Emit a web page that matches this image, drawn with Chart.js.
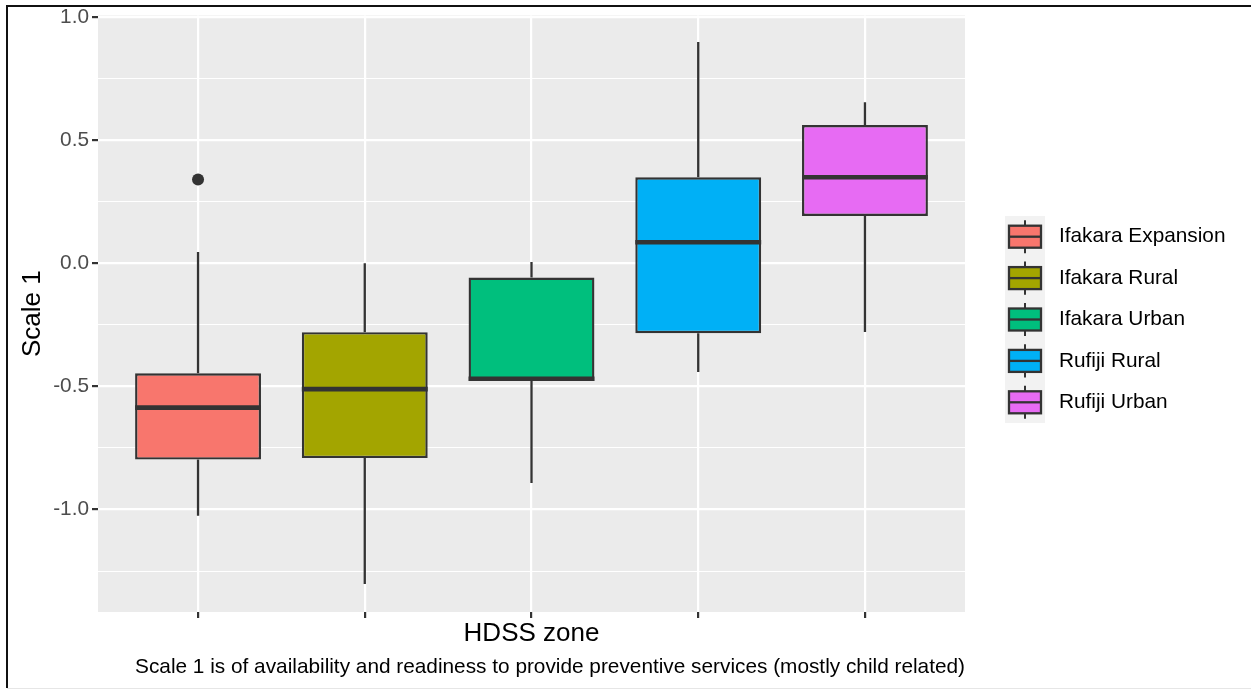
<!DOCTYPE html>
<html>
<head>
<meta charset="utf-8">
<script src="https://cdn.jsdelivr.net/npm/chart.js@4.4.1/dist/chart.umd.min.js"></script>
<style>
  html, body { margin: 0; padding: 0; background: #fff; }
  #wrap { width: 1251px; height: 692px; }
</style>
</head>
<body>
<div id="wrap"><canvas id="boxChart" width="1251" height="692"></canvas></div>
<script>
// Box plot values (one entry per HDSS zone)
const zones = ['Ifakara Expansion', 'Ifakara Rural', 'Ifakara Urban', 'Rufiji Rural', 'Rufiji Urban'];
const lowerWhisker = [-1.025, -1.302, -0.892, -0.442, -0.279];
const q1 = [-0.797, -0.791, -0.478, -0.284, 0.192];
const median = [-0.586, -0.511, -0.469, 0.085, 0.349];
const q3 = [-0.447, -0.280, -0.058, 0.349, 0.561];
const upperWhisker = [0.046, 0.0, 0.005, 0.898, 0.654];
const outlierZone = [0];
const outlierValue = [0.34];

const yTicks = [-1.25, -1.0, -0.75, -0.5, -0.25, 0, 0.25, 0.5, 0.75, 1.0];
const yMajorLabels = { '-1': '-1.0', '-0.5': '-0.5', '0': '0.0', '0.5': '0.5', '1': '1.0' };

const fills = ['#F8766D', '#A3A500', '#00BF7D', '#00B0F6', '#E76BF3'];
const ink = '#333333';
const FONT = '"Liberation Sans", Arial, Helvetica, sans-serif';
const SMALL = 20.8;

const xPos = zones.map((z, i) => i + 1);
const isMajor = v => Object.prototype.hasOwnProperty.call(yMajorLabels, String(v));

Chart.defaults.font.family = FONT;

// panel background, frame, titles, whiskers, medians and legend
const boxPlugin = {
  id: 'boxPlugin',
  beforeDraw(chart) {
    const { ctx, chartArea: a } = chart;
    ctx.save();
    ctx.fillStyle = '#EBEBEB';
    ctx.fillRect(a.left, a.top, a.right - a.left, a.bottom - a.top);
    ctx.restore();
  },
  beforeDatasetsDraw(chart) {
    const { ctx, scales: { x, y } } = chart;
    ctx.save();
    ctx.strokeStyle = ink;
    ctx.lineWidth = 2.3;
    xPos.forEach((v, i) => {
      const px = x.getPixelForValue(v);
      ctx.beginPath();
      ctx.moveTo(px, y.getPixelForValue(q3[i]));
      ctx.lineTo(px, y.getPixelForValue(upperWhisker[i]));
      ctx.moveTo(px, y.getPixelForValue(q1[i]));
      ctx.lineTo(px, y.getPixelForValue(lowerWhisker[i]));
      ctx.stroke();
    });
    ctx.restore();
  },
  afterDatasetsDraw(chart) {
    const { ctx, scales: { y } } = chart;
    const meta = chart.getDatasetMeta(0);
    ctx.save();
    ctx.strokeStyle = ink;
    ctx.lineWidth = 4.6;
    meta.data.forEach((bar, i) => {
      const half = bar.width / 2;
      const py = y.getPixelForValue(median[i]);
      ctx.beginPath();
      ctx.moveTo(bar.x - half, py);
      ctx.lineTo(bar.x + half, py);
      ctx.stroke();
    });
    ctx.restore();
  },
  afterDraw(chart) {
    const { ctx, chartArea: a } = chart;
    ctx.save();

    // axis titles and caption
    ctx.fillStyle = '#000';
    ctx.textBaseline = 'middle';
    ctx.font = '26px ' + FONT;
    ctx.textAlign = 'center';
    ctx.fillText('HDSS zone', (a.left + a.right) / 2, 634);
    ctx.save();
    ctx.translate(33, (a.top + a.bottom) / 2);
    ctx.rotate(-Math.PI / 2);
    ctx.fillText('Scale 1', 0, 0);
    ctx.restore();
    ctx.font = SMALL + 'px ' + FONT;
    ctx.textAlign = 'right';
    ctx.fillText('Scale 1 is of availability and readiness to provide preventive services (mostly child related)', a.right, 667);

    // legend
    const keyX = 1005, keyW = 40, keyH = 41.4, top0 = 216;
    ctx.fillStyle = '#F2F2F2';
    ctx.fillRect(keyX, top0, keyW, keyH * zones.length);
    zones.forEach((z, i) => {
      const cy = top0 + keyH * i + keyH / 2;
      const cx = keyX + keyW / 2;
      ctx.strokeStyle = ink;
      ctx.lineWidth = 2;
      ctx.beginPath();
      ctx.moveTo(cx, cy - keyH * 0.4);
      ctx.lineTo(cx, cy + keyH * 0.4);
      ctx.stroke();
      ctx.fillStyle = fills[i];
      ctx.fillRect(keyX + 4, cy - 11, keyW - 8, 22);
      ctx.lineWidth = 2.3;
      ctx.strokeRect(keyX + 4, cy - 11, keyW - 8, 22);
      ctx.beginPath();
      ctx.moveTo(keyX + 4, cy);
      ctx.lineTo(keyX + keyW - 4, cy);
      ctx.stroke();
      ctx.fillStyle = '#000';
      ctx.font = SMALL + 'px ' + FONT;
      ctx.textAlign = 'left';
      ctx.fillText(z, 1059, cy);
    });

    // outer frame of the figure
    ctx.strokeStyle = '#111';
    ctx.lineWidth = 2;
    ctx.beginPath();
    ctx.moveTo(7, 688);
    ctx.lineTo(7, 6);
    ctx.lineTo(1251, 6);
    ctx.stroke();
    ctx.strokeStyle = '#E6E6E6';
    ctx.lineWidth = 1;
    ctx.beginPath();
    ctx.moveTo(7, 688.5);
    ctx.lineTo(1251, 688.5);
    ctx.stroke();
    ctx.restore();
  }
};

new Chart(document.getElementById('boxChart').getContext('2d'), {
  type: 'bar',
  data: {
    datasets: [
      {
        label: 'IQR',
        data: xPos.map((v, i) => ({ x: v, y: [q1[i], q3[i]] })),
        backgroundColor: fills,
        borderColor: ink,
        borderWidth: 2.4,
        borderSkipped: false,
        barPercentage: 0.755,
        categoryPercentage: 1.0,
        order: 2
      },
      {
        type: 'scatter',
        label: 'Outliers',
        data: outlierZone.map((z, i) => ({ x: xPos[z], y: outlierValue[i] })),
        pointRadius: 6,
        pointBackgroundColor: ink,
        pointBorderWidth: 0,
        order: 1
      }
    ]
  },
  options: {
    responsive: false,
    animation: false,
    layout: { padding: { top: 15, right: 286, left: 0, bottom: 0 } },
    plugins: {
      legend: { display: false },
      tooltip: { enabled: false }
    },
    scales: {
      x: {
        type: 'linear',
        min: 0.4,
        max: 5.6,
        offset: false,
        afterBuildTicks: s => { s.ticks = xPos.map(v => ({ value: v })); },
        afterFit: s => { s.height = 80; },
        ticks: { callback: () => '', padding: 0 },
        grid: {
          color: '#FFFFFF',
          lineWidth: 2.2,
          offset: false,
          tickLength: 6,
          tickColor: ink,
          tickWidth: 2.2
        },
        border: { display: false }
      },
      y: {
        min: -1.416,
        max: 1.006,
        afterBuildTicks: s => { s.ticks = yTicks.map(v => ({ value: v })); },
        afterFit: s => { s.width = 98; },
        ticks: {
          callback: v => yMajorLabels[String(v)] || '',
          color: '#4D4D4D',
          font: { size: SMALL },
          padding: 3
        },
        grid: {
          color: '#FFFFFF',
          lineWidth: c => (c.tick && isMajor(c.tick.value) ? 2.2 : 1.1),
          tickLength: 6,
          tickColor: c => (c.tick && isMajor(c.tick.value) ? ink : 'rgba(0,0,0,0)'),
          tickWidth: 2.2
        },
        border: { display: false }
      }
    }
  },
  plugins: [boxPlugin]
});
</script>
</body>
</html>
